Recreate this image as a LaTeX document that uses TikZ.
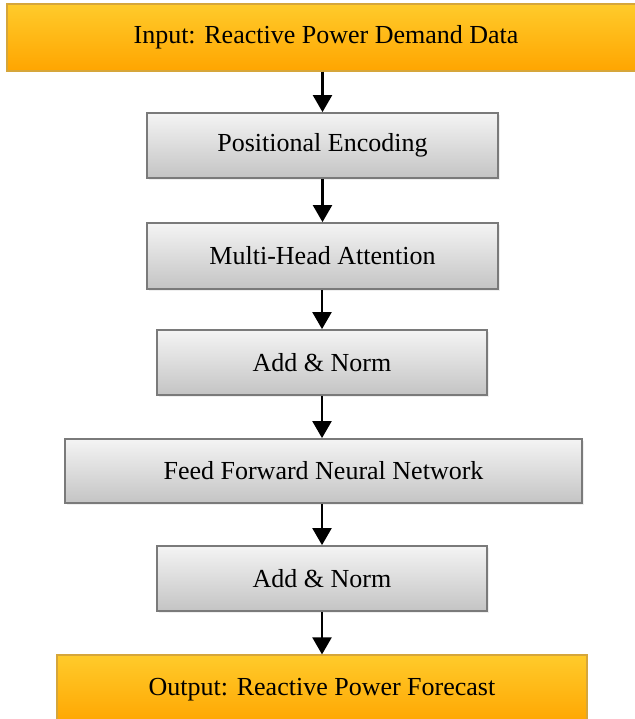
\documentclass[tikz,border=0pt]{standalone}
\usepackage{fontspec}
\setmainfont{Liberation Serif}
\usetikzlibrary{arrows.meta,shadows}
\definecolor{grayTop}{HTML}{F4F4F4}
\definecolor{grayBot}{HTML}{C4C4C4}
\definecolor{grayEdge}{HTML}{7A7A7A}
\definecolor{orTop}{HTML}{FFCB2B}
\definecolor{orBot}{HTML}{FFA500}
\definecolor{orEdge}{HTML}{D6A63A}
\tikzset{
  label font/.style={font=\fontsize{26}{30}\selectfont},
  graybox/.style={label font, rectangle, draw=grayEdge, line width=1.8pt,
    top color=grayTop, bottom color=grayBot, inner sep=0pt,
    drop shadow={opacity=0.12, shadow xshift=2pt, shadow yshift=-2pt}},
  orangebox/.style={label font, rectangle, draw=orEdge, line width=1.2pt,
    top color=orTop, bottom color=orBot, inner sep=0pt},
  flow/.style={draw=black, line width=2.2pt, -{Triangle[width=19pt,length=17pt]}}
}
\begin{document}
\begin{tikzpicture}[x=1pt,y=-1pt]
\useasboundingbox (0,0) rectangle (634,719);
\fill[white] (0,0) rectangle (634,719);

% stages of the forecasting pipeline
\node[orangebox, minimum width=638pt, minimum height=67pt] (in) at (326,37.5)
  {Input: Reactive Power Demand Data};
\node[graybox, minimum width=351pt, minimum height=65pt] (pe) at (322.5,145.5)
  {Positional Encoding};
\node[graybox, minimum width=351pt, minimum height=66pt] (mha) at (322.5,256)
  {Multi-Head Attention};
\node[graybox, minimum width=330pt, minimum height=65pt] (an1) at (322,362.5)
  {Add \& Norm};
\node[graybox, minimum width=517pt, minimum height=64pt] (ffn) at (323.5,471)
  {Feed Forward Neural Network};
\node[graybox, minimum width=330pt, minimum height=65pt] (an2) at (322,578.5)
  {Add \& Norm};
\node[orangebox, minimum width=530pt, minimum height=70pt] (out) at (322,690)
  {Output: Reactive Power Forecast};

% connectors
\draw[flow] (in.south -| pe.north) -- (pe.north);
\draw[flow] (pe.south -| mha.north) -- (mha.north);
\draw[flow] (mha.south -| an1.north) -- (an1.north);
\draw[flow] (an1.south -| an1.north) -- (ffn.north -| an1.north);
\draw[flow] (ffn.south -| an2.north) -- (an2.north);
\draw[flow] (an2.south) -- (out.north -| an2.south);
\end{tikzpicture}
\end{document}
